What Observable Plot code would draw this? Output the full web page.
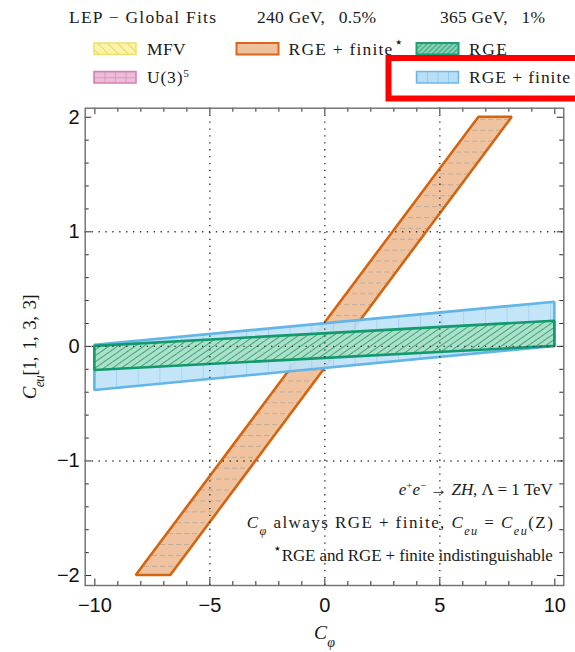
<!DOCTYPE html>
<html><head><meta charset="utf-8">
<script src="https://cdn.jsdelivr.net/npm/d3@7"></script>
<script src="https://cdn.jsdelivr.net/npm/@observablehq/plot@0.6"></script>
<style>
html,body{margin:0;padding:0;background:#fff;overflow:hidden;}
#wrap{width:575px;height:652px;position:relative;}
svg{display:block}
</style></head>
<body><div id="wrap"><svg id="head" width="575" height="102"></svg><div id="chart"></div></div>
<script>
// ---------------- data ----------------
const headerTexts = ["LEP \u2212 Global Fits", "240 GeV,\u2002 0.5%", "365 GeV,\u2002 1%"];
const seriesNames = ["MFV", "RGE + finite\u22c6", "RGE", "U(3)^5", "RGE + finite"];
const notes = [
  "e+e\u2212 \u2192 ZH, \u039b = 1 TeV",
  "C\u03c6 always RGE + finite, Ceu = Ceu(Z)",
  "\u22c6RGE and RGE + finite indistinguishable"
];
const xTitle = "C\u03c6";
const yTitle = "Ceu[1, 1, 3, 3]";

// RGE + finite* band (orange): edges at y = -2 and y = 2
const orangeY = [-2, 2];
const orangeXLeft = [-8.2, 6.7];
const orangeXRight = [-6.7, 8.15];
// RGE + finite band (blue) and RGE band (green), edges at x = -10 and x = 10
const bandX = [-10, 10];
const blueLow = [-0.385, 0.0];
const blueHigh = [0.01, 0.385];
const greenLow = [-0.21, 0.0];
const greenHigh = [0.0, 0.22];

const xMajorTicks = [-10, -5, 0, 5, 10];
const xMinorTicks = [-9, -8, -7, -6, -4, -3, -2, -1, 1, 2, 3, 4, 6, 7, 8, 9];
const yMajorTicks = [-2, -1, 0, 1, 2];
const yMinorTicks = [-1.8, -1.6, -1.4, -1.2, -0.8, -0.6, -0.4, -0.2, 0.2, 0.4, 0.6, 0.8, 1.2, 1.4, 1.6, 1.8];
const gridX = [-5, 0, 5];
const gridY = [-1, 0, 1];

// ---------------- rich text ----------------
const SUP = t => `<tspan baseline-shift="super" font-size="65%">${t}</tspan>`;
const STAR = `<tspan baseline-shift="super" font-size="85%">\u22c6</tspan>`;
const SUBI = t => `<tspan baseline-shift="sub" font-size="72%" font-style="italic">${t}</tspan>`;
const I = t => `<tspan font-style="italic">${t}</tspan>`;
const markup = {
  "RGE + finite\u22c6": "RGE + finite" + STAR,
  "U(3)^5": "U(3)" + SUP("5"),
  [notes[0]]: I("e") + SUP("+") + I("e") + SUP("\u2212") + " \u2192 " + I("ZH") + ", \u039b = 1 TeV",
  [notes[1]]: I("C") + SUBI("\u03c6") + " always RGE + finite, " + I("C") + SUBI("eu") + " = " + I("C") + SUBI("eu") + "(Z)",
  [notes[2]]: STAR + "RGE and RGE + finite indistinguishable",
  [xTitle]: I("C") + SUBI("\u03c6"),
  [yTitle]: I("C") + SUBI("eu") + "[1,\u2009 1,\u2009 3,\u2009 3]"
};
const lengths = {
  [notes[0]]: 154, [notes[1]]: 306, [notes[2]]: 280, [yTitle]: 105
};

const serif = "'Liberation Serif','Times New Roman',serif";

// ---------------- header / legend ----------------
const head = d3.select("#head");
head.attr("font-family", serif).attr("fill", "#1a1a1a");
head.append("defs").html(`
<pattern id="pOrange" patternUnits="userSpaceOnUse" width="24" height="10.9" y="6">
  <rect width="24" height="10.9" fill="#efc2a0"/>
  <line x1="0" y1="0.5" x2="24" y2="0.5" stroke="#b8a695" stroke-width="0.8" stroke-dasharray="5 3"/>
</pattern>
<pattern id="pBlue" patternUnits="userSpaceOnUse" width="21.7" height="40" x="94.3">
  <rect width="21.7" height="40" fill="#bfe2f7" fill-opacity="0.93"/>
  <line x1="0" y1="0" x2="0" y2="40" stroke="#8ac8ee" stroke-width="1.2"/>
</pattern>
<pattern id="pGreen" patternUnits="userSpaceOnUse" width="10" height="5" patternTransform="rotate(-35)">
  <rect width="10" height="5" fill="#ace0c9"/>
  <line x1="0" y1="2.5" x2="10" y2="2.5" stroke="#2f9f79" stroke-width="0.9"/>
</pattern>
<pattern id="sYellow" patternUnits="userSpaceOnUse" width="7" height="7" patternTransform="rotate(45)">
  <rect width="7" height="7" fill="#f9f3ac"/>
  <line x1="0" y1="3.5" x2="7" y2="3.5" stroke="#e8d95a" stroke-width="1"/>
</pattern>
<pattern id="sGreen" patternUnits="userSpaceOnUse" width="6" height="3.6" patternTransform="rotate(-45)">
  <rect width="6" height="3.6" fill="#8ed4b6"/>
  <line x1="0" y1="1.8" x2="6" y2="1.8" stroke="#1f9d74" stroke-width="1"/>
</pattern>
<pattern id="sPink" patternUnits="objectBoundingBox" width="0.25" height="0.5">
  <rect width="11" height="7" fill="#ecbcd9"/>
  <line x1="0" y1="0" x2="0" y2="7" stroke="#d683b8" stroke-width="1.2"/>
  <line x1="0" y1="0" x2="11" y2="0" stroke="#d683b8" stroke-width="1.2"/>
</pattern>
<pattern id="sBlue" patternUnits="objectBoundingBox" width="0.25" height="1">
  <rect width="11" height="14" fill="#b9def5"/>
  <line x1="0" y1="0" x2="0" y2="14" stroke="#78bdea" stroke-width="1.2"/>
</pattern>`);

const headerX = [69, 257, 440];
const headerLen = [147, 119, 105];
headerTexts.forEach((t, i) => {
  head.append("text").attr("x", headerX[i]).attr("y", 23.3).attr("font-size", 17.5)
    .attr("textLength", headerLen[i]).attr("lengthAdjust", "spacing").style("white-space", "pre").text(t);
});

const legendLayout = [
  {x: 94, y: 43, tx: 147, ty: 54.5, len: 38.6, fill: "url(#sYellow)", stroke: "#ede06a", sw: 1.5},
  {x: 236.5, y: 43, tx: 288.6, ty: 54.5, len: 114, fill: "#efc09c", stroke: "#d8661c", sw: 2},
  {x: 416.5, y: 43, tx: 469, ty: 54.5, len: 38, fill: "url(#sGreen)", stroke: "#1d9e73", sw: 2},
  {x: 94, y: 71.5, tx: 147, ty: 83.2, len: 42, fill: "url(#sPink)", stroke: "#d67fb5", sw: 1.5},
  {x: 416.5, y: 71.5, tx: 469, ty: 83.2, len: 101, fill: "url(#sBlue)", stroke: "#6ab8ea", sw: 1.5}
];
seriesNames.forEach((name, i) => {
  const L = legendLayout[i];
  head.append("rect").attr("x", L.x).attr("y", L.y).attr("width", 42).attr("height", 11.5)
    .attr("fill", L.fill).attr("stroke", L.stroke).attr("stroke-width", L.sw);
  const t = head.append("text").attr("x", L.tx).attr("y", L.ty).attr("font-size", 17.5)
    .attr("textLength", L.len).attr("lengthAdjust", "spacing").style("white-space", "pre");
  if (markup[name]) t.html(markup[name]); else t.text(name);
});
// highlight box
head.append("rect").attr("x", 388.5).attr("y", 58).attr("width", 200).attr("height", 40.5)
  .attr("fill", "none").attr("stroke", "#ff0000").attr("stroke-width", 6);

// ---------------- plot ----------------
const W = 575, H = 550;
const mT = 5.7, mB = 67, mL = 84.7, mR = 11.7;
const innerH = H - mT - mB, innerW = W - mL - mR;
const fmt = d => d < 0 ? "\u2212" + (-d) : String(d);

const orangeRows = orangeY.map((y, i) => ({y, x1: orangeXLeft[i], x2: orangeXRight[i]}));
const blueRows = bandX.map((x, i) => ({x, y1: blueLow[i], y2: blueHigh[i]}));
const greenRows = bandX.map((x, i) => ({x, y1: greenLow[i], y2: greenHigh[i]}));

const tickStroke = "#2a2a2a";
const majorLen = 6.5, minorLen = 4;
const noteStyle = {text: d => d, frameAnchor: "bottom-right", textAnchor: "end", lineAnchor: "middle", dx: -11, fontFamily: serif, fontSize: 17, fill: "#1a1a1a"};

const svg = Plot.plot({
  width: W, height: H,
  marginTop: mT, marginBottom: mB, marginLeft: mL, marginRight: mR,
  x: {domain: [-10.42, 10.39]},
  y: {domain: [-2.087, 2.079]},
  style: {fontFamily: "'Liberation Sans', Arial, sans-serif", fontSize: "20px", color: "#111", background: "transparent", overflow: "visible"},
  marks: [
    Plot.areaX(orangeRows, {y: "y", x1: "x1", x2: "x2", fill: "#efc2a0", stroke: "#d5640f", strokeWidth: 2.6, strokeLinejoin: "miter"}),
    Plot.areaY(blueRows, {x: "x", y1: "y1", y2: "y2", fill: "#bfe2f7", stroke: "#62b5e7", strokeWidth: 2.6, strokeLinejoin: "miter"}),
    Plot.areaY(greenRows, {x: "x", y1: "y1", y2: "y2", fill: "#ace0c9", stroke: "#119a6d", strokeWidth: 2.6, strokeLinejoin: "miter"}),
    Plot.ruleX(gridX, {stroke: "#333", strokeWidth: 1.4, strokeDasharray: "1.3 5.6"}),
    Plot.ruleY(gridY, {stroke: "#333", strokeWidth: 1.4, strokeDasharray: "1.3 5.6"}),
    // inward ticks on all four sides
    Plot.ruleX(xMajorTicks, {insetTop: innerH - majorLen, stroke: tickStroke}),
    Plot.ruleX(xMajorTicks, {insetBottom: innerH - majorLen, stroke: tickStroke}),
    Plot.ruleX(xMinorTicks, {insetTop: innerH - minorLen, stroke: tickStroke}),
    Plot.ruleX(xMinorTicks, {insetBottom: innerH - minorLen, stroke: tickStroke}),
    Plot.ruleY(yMajorTicks, {insetRight: innerW - majorLen, stroke: tickStroke}),
    Plot.ruleY(yMajorTicks, {insetLeft: innerW - majorLen, stroke: tickStroke}),
    Plot.ruleY(yMinorTicks, {insetRight: innerW - minorLen, stroke: tickStroke}),
    Plot.ruleY(yMinorTicks, {insetLeft: innerW - minorLen, stroke: tickStroke}),
    Plot.frame({stroke: "#6e6e6e", strokeWidth: 1.4}),
    Plot.axisX(xMajorTicks, {tickSize: 0, tickPadding: 12, tickFormat: fmt, label: null, fontSize: 20}),
    Plot.axisY(yMajorTicks, {tickSize: 0, tickPadding: 5.5, tickFormat: fmt, label: null, fontSize: 20}),
    Plot.text([notes[0]], {...noteStyle, dy: -96.4}),
    Plot.text([notes[1]], {...noteStyle, dy: -63.4}),
    Plot.text([notes[2]], {...noteStyle, dy: -30.4}),
    Plot.text([xTitle], {text: d => d, frameAnchor: "bottom", textAnchor: "middle", lineAnchor: "middle", dy: 47.5, fontFamily: serif, fontSize: 19.5, fill: "#1a1a1a"}),
    Plot.text([yTitle], {text: d => d, frameAnchor: "left", textAnchor: "middle", lineAnchor: "middle", rotate: -90, dx: -55, fontFamily: serif, fontSize: 19, fill: "#1a1a1a"})
  ]
});
document.getElementById("chart").appendChild(svg);

// rich formatting of texts
svg.querySelectorAll("text").forEach(t => {
  const k = t.textContent;
  if (markup[k]) {
    t.innerHTML = markup[k];
    t.style.whiteSpace = "pre";
    if (lengths[k]) { t.setAttribute("textLength", lengths[k]); t.setAttribute("lengthAdjust", "spacing"); }
  }
});
// hatched fills for the bands
const areas = svg.querySelectorAll('g[aria-label="area"] path');
const pats = ["url(#pOrange)", "url(#pBlue)", "url(#pGreen)"];
areas.forEach((p, i) => p.setAttribute("fill", pats[i]));
</script>
</body></html>
